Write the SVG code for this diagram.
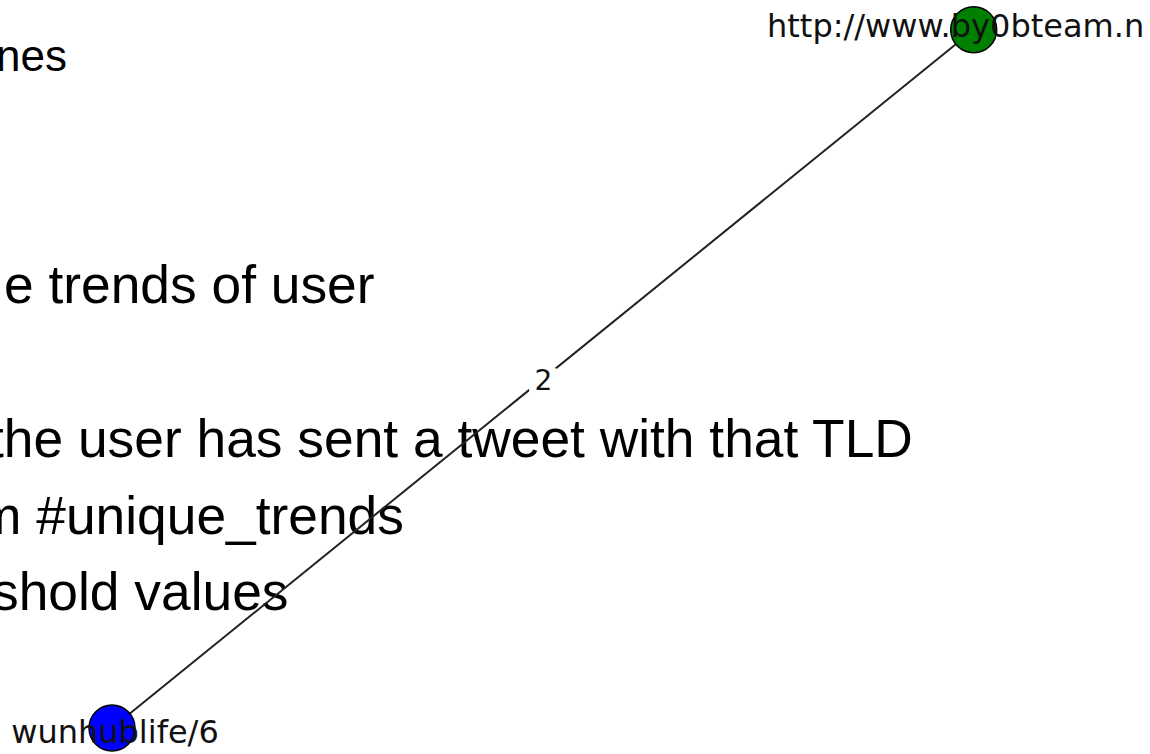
<svg xmlns="http://www.w3.org/2000/svg" width="1150" height="754" viewBox="0 0 1150 754">
<style>
.bg{font-family:"Liberation Sans",Arial,sans-serif;font-size:53.33px;fill:#000}
.nl{font-family:"DejaVu Sans",sans-serif;font-size:32px;fill:#111}
.el{font-family:"DejaVu Sans",sans-serif;font-size:28px;fill:#111}
.node{stroke:#000;stroke-width:1.5}
</style>
<rect width="1150" height="754" fill="#fff"/>
<g id="background-text">
<text class="bg" x="-4" y="71" style="font-size:44px">nes</text>
<text class="bg" x="4" y="303">e trends of user</text>
<text class="bg" x="-11" y="457">the user has sent a tweet with that TLD</text>
<text class="bg" x="-23" y="534">m #unique_trends</text>
<text class="bg" x="-8" y="610">shold values</text>
</g>
<g id="connectors">
<line x1="112" y1="728" x2="973.7" y2="29.7" stroke="#222" stroke-width="2"/>
<rect x="529" y="368" width="29" height="25" rx="4" fill="#fff"/>
<text class="el" x="543.5" y="390" text-anchor="middle">2</text>
</g>
<g id="node-by0bteam">
<circle class="node" cx="973.7" cy="29.7" r="23" fill="#008000"/>
<text class="nl" x="767" y="37">http://www.by0bteam.n</text>
</g>
<g id="node-wunhublife">
<circle class="node" cx="112" cy="728" r="23" fill="#0000ff"/>
<text class="nl" x="115" y="743" text-anchor="middle">wunhublife/6</text>
</g>
</svg>
